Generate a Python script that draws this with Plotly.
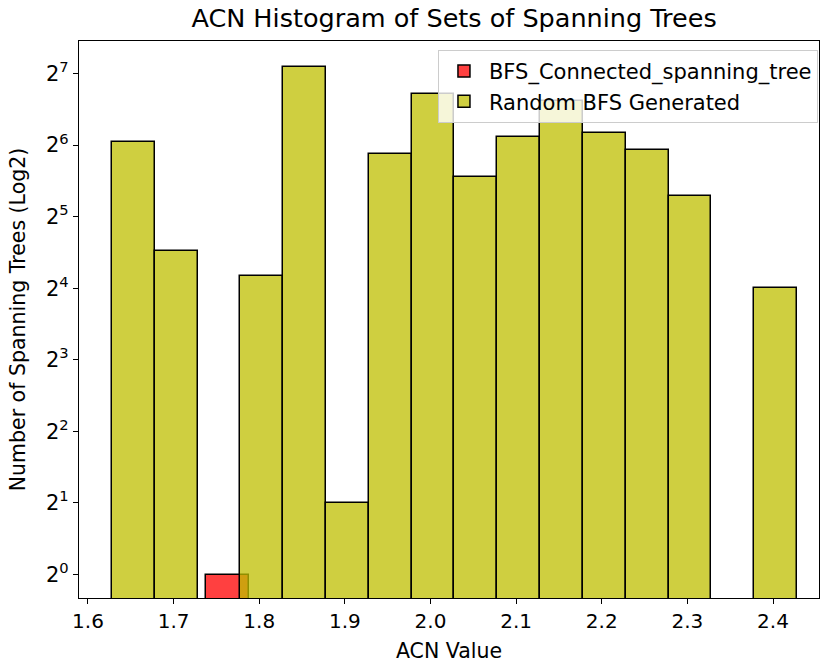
import plotly.graph_objects as go

# Data
random_bin_centers = [1.653, 1.703, 1.753, 1.803, 1.853, 1.903, 1.953, 2.003,
                      2.053, 2.103, 2.153, 2.203, 2.253, 2.303, 2.353, 2.403]
random_counts = [66, 23, 0, 18, 136, 2, 59, 105, 47, 69, 98, 72, 61, 39, 0, 16]
bfs_bin_centers = [1.763]
bfs_counts = [1]
bin_width = 0.05

x_ticks = [1.6, 1.7, 1.8, 1.9, 2.0, 2.1, 2.2, 2.3, 2.4]
y_tick_vals = [1, 2, 4, 8, 16, 32, 64, 128]
y_tick_text = ["2<sup>%d</sup>" % i for i in range(8)]

FONT = "DejaVu Sans, Liberation Sans, sans-serif"

fig = go.Figure()
fig.add_trace(go.Bar(
    x=bfs_bin_centers, y=bfs_counts, width=bin_width,
    name="BFS_Connected_spanning_tree",
    marker=dict(color="rgba(255,0,0,0.75)", line=dict(color="black", width=1.5)),
))
fig.add_trace(go.Bar(
    x=random_bin_centers, y=random_counts, width=bin_width,
    name="Random BFS Generated",
    marker=dict(color="rgba(191,191,0,0.75)", line=dict(color="black", width=1.5)),
))

fig.update_layout(
    width=820, height=663,
    margin=dict(l=79, r=1, t=41, b=65),
    barmode="overlay",
    bargap=0,
    plot_bgcolor="white", paper_bgcolor="white",
    font=dict(family=FONT, size=20, color="black"),
    title=dict(text="ACN Histogram of Sets of Spanning Trees", x=0.5537, xanchor="center",
               y=0.972, yanchor="middle", font=dict(size=25.5, family=FONT)),
    legend=dict(x=0.9986, xanchor="right", y=0.984, yanchor="top",
                bgcolor="rgba(255,255,255,0.8)", bordercolor="#cccccc", borderwidth=1,
                font=dict(size=21, family=FONT), tracegroupgap=0, itemwidth=40),
    showlegend=True,
)
fig.update_xaxes(
    range=[1.5895, 2.4537], tickvals=x_ticks, ticktext=["%.1f" % v for v in x_ticks],
    ticks="outside", ticklen=5, tickwidth=1.2, tickcolor="black",
    showline=True, linecolor="black", linewidth=1.2, mirror=True, showgrid=False, zeroline=False,
    title=dict(text="ACN Value", font=dict(size=20.5), standoff=12),
    tickfont=dict(size=20),
)
fig.update_yaxes(
    type="log", range=[-0.0987, 2.244], tickvals=y_tick_vals, ticktext=y_tick_text,
    ticks="outside", ticklen=5, tickwidth=1.2, tickcolor="black",
    showline=True, linecolor="black", linewidth=1.2, mirror=True, showgrid=False, zeroline=False,
    title=dict(text="Number of Spanning Trees (Log2)", font=dict(size=20.5), standoff=14),
    tickfont=dict(size=21),
)

fig.write_html("out.html")
